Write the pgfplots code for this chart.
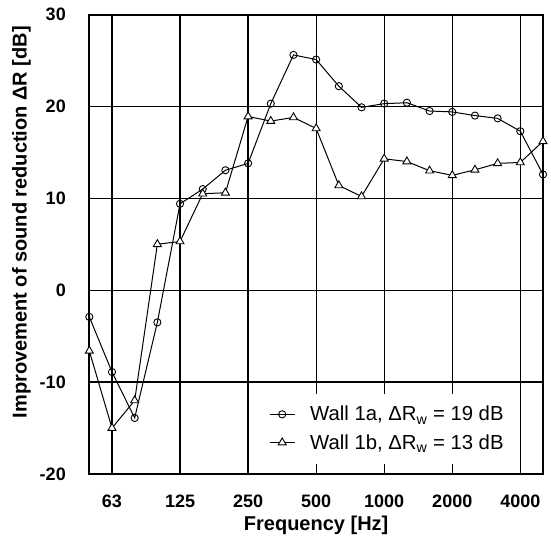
\documentclass[border=0pt]{standalone}
\usepackage{fontspec}
\setmainfont{Liberation Sans}
\usepackage{pgfplots}
\usepackage{pgfplotstable}
\pgfplotsset{compat=1.18}
\pgfplotstableread{
x a b
0 -2.9 -6.6
1 -8.9 -15.0
2 -13.9 -12.0
3 -3.5 5.0
4 9.4 5.3
5 11.0 10.5
6 13.05 10.6
7 13.8 18.9
8 20.3 18.4
9 25.6 18.8
10 25.1 17.6
11 22.2 11.4
12 19.9 10.2
13 20.3 14.3
14 20.4 14.0
15 19.5 13.0
16 19.4 12.5
17 19.0 13.1
18 18.7 13.8
19 17.3 13.9
20 12.6 16.2
}\datatab
\begin{document}
\begin{tikzpicture}
\begin{axis}[
  name=ax, at={(0,0)}, anchor=south west,
  scale only axis, width=453.7pt, height=459.5pt,
  xmin=0, xmax=20, ymin=-20, ymax=30,
  xtick={1,4,7,10,13,16,19},
  xticklabels={63,125,250,500,1000,2000,4000},
  ytick={-20,-10,0,10,20,30},
  yticklabels={-20,-10,0,10,20,30},
  grid=major,
  major grid style={black, line width=1.3pt},
  axis line style={black, line width=2pt},
  major tick length=0pt,
  xticklabel style={font=\bfseries\fontsize{18}{20}\selectfont, yshift=-17pt},
  yticklabel style={font=\bfseries\fontsize{18}{20}\selectfont, xshift=-20pt},
  xlabel={Frequency [Hz]},
  ylabel={Improvement of sound reduction ΔR [dB]},
  xlabel style={at={(axis description cs:0.5,-0.111)}, anchor=center, font=\bfseries\fontsize{20}{24}\selectfont},
  ylabel style={at={(axis description cs:-0.1494,0.548)}, anchor=center, font=\bfseries\fontsize{20}{24}\selectfont},
  clip=false,
  legend style={at={(axis description cs:0.657,0.0992)}, anchor=center, draw=none, fill=none,
    font=\fontsize{20.3}{24}\selectfont, row sep=8pt, inner sep=0pt,
    /tikz/every odd column/.append style={column sep=13pt}},
  legend cell align=left,
  legend image code/.code={\draw[mark repeat=2,mark phase=2,#1] plot coordinates {(0pt,0pt) (12.5pt,0pt) (25pt,0pt)};},
]
\addplot[black, line width=1pt, mark=o, mark size=3.6pt, mark options={fill=white, solid, line width=0.9pt}] table[x=x,y=a] {\datatab};
\addlegendentry{Wall 1a, ΔR\textsubscript{w} = 19 dB}
\addplot[black, line width=1pt, mark=triangle*, mark size=4.6pt, mark options={fill=white, solid, line width=0.9pt}] table[x=x,y=b] {\datatab};
\addlegendentry{Wall 1b, ΔR\textsubscript{w} = 13 dB}
\fill[white] ([yshift=1pt]axis cs:7,-20) rectangle (axis cs:19,-10);
\draw[black, line width=1.3pt] (axis cs:7,-20) -- (axis cs:7,-10) -- (axis cs:19,-10) -- (axis cs:19,-20);
\draw[black, line width=1.3pt] (axis cs:10,-10) -- ++(0pt,-12pt);
\draw[black, line width=1.3pt] (axis cs:10,-20) -- ++(0pt,10pt);
\draw[black, line width=1.3pt] (axis cs:13,-10) -- ++(0pt,-12pt);
\draw[black, line width=1.3pt] (axis cs:13,-20) -- ++(0pt,10pt);
\draw[black, line width=1.3pt] (axis cs:16,-10) -- ++(0pt,-12pt);
\draw[black, line width=1.3pt] (axis cs:16,-20) -- ++(0pt,10pt);
\end{axis}
\pgfresetboundingbox
\path (-89.3pt,-65pt) rectangle (461.7pt,474pt);
\end{tikzpicture}
\end{document}
